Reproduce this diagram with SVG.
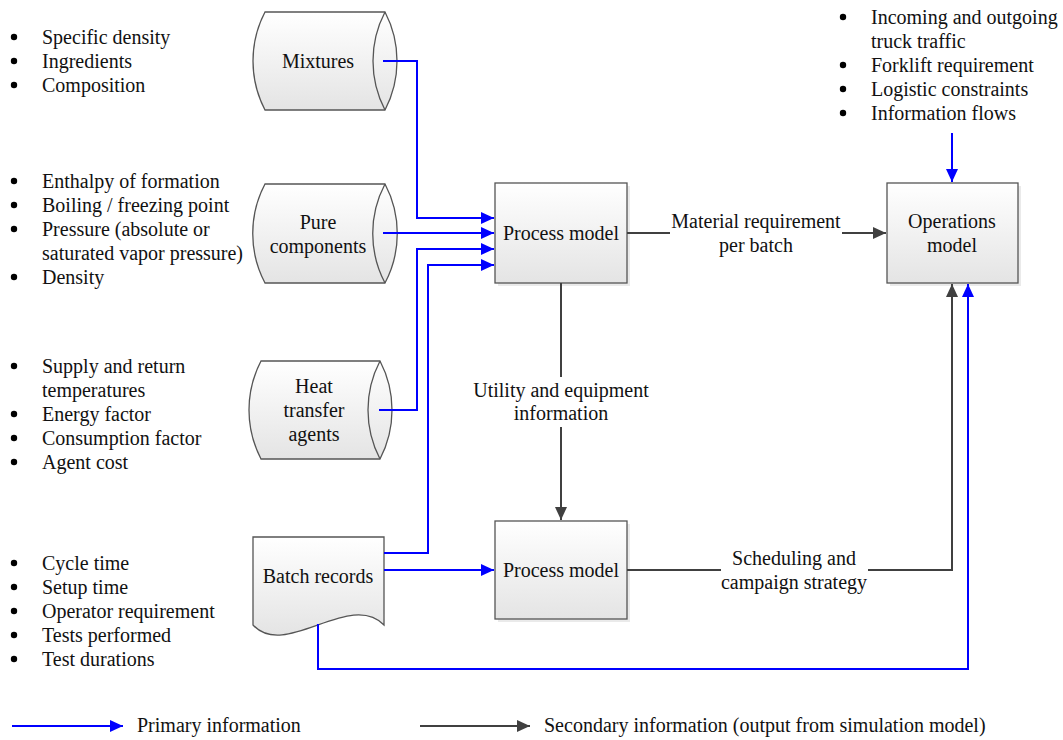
<svg xmlns="http://www.w3.org/2000/svg" width="1063" height="740" viewBox="0 0 1063 740">
<defs>
<linearGradient id="gfill" x1="0" y1="0" x2="0" y2="1">
<stop offset="0" stop-color="#ffffff"/>
<stop offset="1" stop-color="#e4e4e4"/>
</linearGradient>
<marker id="ab" markerUnits="userSpaceOnUse" markerWidth="14" markerHeight="12" refX="13" refY="6" orient="auto">
<path d="M0,0 L13,6 L0,12 Z" fill="#0000ff"/>
</marker>
<marker id="ag" markerUnits="userSpaceOnUse" markerWidth="14" markerHeight="12" refX="13" refY="6" orient="auto">
<path d="M0,0 L13,6 L0,12 Z" fill="#404040"/>
</marker>
</defs>
<style>
text{font-family:"Liberation Serif","Times New Roman",serif;font-size:20px;fill:#111}
.c{text-anchor:middle}
.shape{fill:url(#gfill);stroke:#555;stroke-width:1.3}
.shadow{fill:#dcdcdc;opacity:0.6}
.blue{fill:none;stroke:#0000ff;stroke-width:2}
.gray{fill:none;stroke:#404040;stroke-width:2}
.bul{fill:#000}
</style>
<rect width="1063" height="740" fill="#fff"/>

<g id="list-mixtures">
<circle class="bul" cx="14" cy="37" r="3.2"/><text x="42" y="44">Specific density</text>
<circle class="bul" cx="14" cy="61" r="3.2"/><text x="42" y="68">Ingredients</text>
<circle class="bul" cx="14" cy="85" r="3.2"/><text x="42" y="92">Composition</text>
</g>
<g id="list-pure">
<circle class="bul" cx="14" cy="181" r="3.2"/><text x="42" y="188">Enthalpy of formation</text>
<circle class="bul" cx="14" cy="205" r="3.2"/><text x="42" y="212">Boiling / freezing point</text>
<circle class="bul" cx="14" cy="229" r="3.2"/><text x="42" y="236">Pressure (absolute or</text>
<text x="42" y="260">saturated vapor pressure)</text>
<circle class="bul" cx="14" cy="277" r="3.2"/><text x="42" y="284">Density</text>
</g>
<g id="list-heat">
<circle class="bul" cx="14" cy="366" r="3.2"/><text x="42" y="373">Supply and return</text>
<text x="42" y="397">temperatures</text>
<circle class="bul" cx="14" cy="414" r="3.2"/><text x="42" y="421">Energy factor</text>
<circle class="bul" cx="14" cy="438" r="3.2"/><text x="42" y="445">Consumption factor</text>
<circle class="bul" cx="14" cy="462" r="3.2"/><text x="42" y="469">Agent cost</text>
</g>
<g id="list-batch">
<circle class="bul" cx="14" cy="563" r="3.2"/><text x="42" y="570">Cycle time</text>
<circle class="bul" cx="14" cy="587" r="3.2"/><text x="42" y="594">Setup time</text>
<circle class="bul" cx="14" cy="611" r="3.2"/><text x="42" y="618">Operator requirement</text>
<circle class="bul" cx="14" cy="635" r="3.2"/><text x="42" y="642">Tests performed</text>
<circle class="bul" cx="14" cy="659" r="3.2"/><text x="42" y="666">Test durations</text>
</g>
<g id="list-operations">
<circle class="bul" cx="843" cy="17" r="3.2"/><text x="871" y="24">Incoming and outgoing</text>
<text x="871" y="48">truck traffic</text>
<circle class="bul" cx="843" cy="65" r="3.2"/><text x="871" y="72">Forklift requirement</text>
<circle class="bul" cx="843" cy="89" r="3.2"/><text x="871" y="96">Logistic constraints</text>
<circle class="bul" cx="843" cy="113" r="3.2"/><text x="871" y="120">Information flows</text>
</g>

<g id="mixtures">
<path class="shape" d="M265,12 L385,12 A106,106 0 0 1 385,110 L265,110 A106,106 0 0 1 265,12 Z"/>
<path class="shape" d="M385,110 A106,106 0 0 1 385,12" fill="none"/>
<text class="c" x="318" y="68">Mixtures</text>
</g>
<g id="pure-components">
<path class="shape" d="M265,184 L385,184 A106,106 0 0 1 385,283 L265,283 A106,106 0 0 1 265,184 Z"/>
<path class="shape" d="M385,283 A106,106 0 0 1 385,184" fill="none"/>
<text class="c" x="318" y="229">Pure</text>
<text class="c" x="318" y="253">components</text>
</g>
<g id="heat-transfer-agents">
<path class="shape" d="M261,361 L380,361 A106,106 0 0 1 380,459 L261,459 A106,106 0 0 1 261,361 Z"/>
<path class="shape" d="M380,459 A106,106 0 0 1 380,361" fill="none"/>
<text class="c" x="314" y="393">Heat</text>
<text class="c" x="314" y="417">transfer</text>
<text class="c" x="314" y="441">agents</text>
</g>
<g id="batch-records">
<path class="shape" d="M253,537 H384 V625 C350,590 285,660 253,625 Z"/>
<text class="c" x="318" y="583">Batch records</text>
</g>
<g id="process-model-1">
<rect class="shadow" x="498" y="186" width="132" height="100"/>
<rect class="shape" x="495" y="183" width="132" height="100"/>
<text class="c" x="561" y="240">Process model</text>
</g>
<g id="process-model-2">
<rect class="shadow" x="498" y="524" width="132" height="98"/>
<rect class="shape" x="495" y="521" width="132" height="98"/>
<text class="c" x="561" y="577">Process model</text>
</g>
<g id="operations-model">
<rect class="shadow" x="890" y="186" width="131" height="100"/>
<rect class="shape" x="887" y="183" width="131" height="100"/>
<text class="c" x="952" y="228">Operations</text>
<text class="c" x="952" y="252">model</text>
</g>

<g id="connectors">
<path class="blue" d="M383,61 H417 V218 H494" marker-end="url(#ab)"/>
<path class="blue" d="M383,233 H494" marker-end="url(#ab)"/>
<path class="blue" d="M379,410 H417 V249 H494" marker-end="url(#ab)"/>
<path class="blue" d="M384,553 H428 V265 H494" marker-end="url(#ab)"/>
<path class="blue" d="M384,570 H494" marker-end="url(#ab)"/>
<path class="blue" d="M318,624 V669 H968 V284" marker-end="url(#ab)"/>
<path class="blue" d="M952,133 V182" marker-end="url(#ab)"/>
<path class="gray" d="M627,233 H670"/>
<path class="gray" d="M842,233 H886" marker-end="url(#ag)"/>
<text class="c" x="756" y="228">Material requirement</text>
<text class="c" x="756" y="252">per batch</text>
<path class="gray" d="M561,283 V377"/>
<path class="gray" d="M561,427 V520" marker-end="url(#ag)"/>
<text class="c" x="561" y="397">Utility and equipment</text>
<text class="c" x="561" y="420">information</text>
<path class="gray" d="M627,570 H721"/>
<path class="gray" d="M868,570 H952 V284" marker-end="url(#ag)"/>
<text class="c" x="794" y="565">Scheduling and</text>
<text class="c" x="794" y="589">campaign strategy</text>
</g>

<g id="legend">
<path class="blue" d="M12,726 H123" marker-end="url(#ab)"/>
<text x="137" y="732">Primary information</text>
<path class="gray" d="M420,726 H530" marker-end="url(#ag)"/>
<text x="544" y="732">Secondary information (output from simulation model)</text>
</g>
</svg>
